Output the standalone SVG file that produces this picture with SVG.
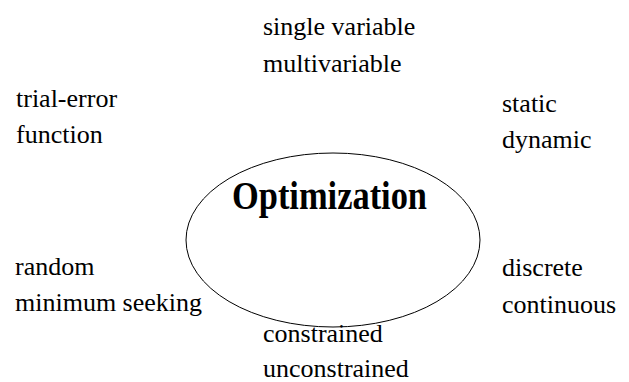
<svg xmlns="http://www.w3.org/2000/svg" width="629" height="382" viewBox="0 0 629 382">
<rect width="629" height="382" fill="#fff"/>
<g id="center">
<ellipse cx="333" cy="240" rx="147" ry="87" fill="none" stroke="#000" stroke-width="1"/>
<text font-family="Liberation Serif" font-size="40" font-weight="bold" x="232" y="209" textLength="195" lengthAdjust="spacingAndGlyphs">Optimization</text>
</g>
<g font-family="Liberation Serif" font-size="26" fill="#000">
<g id="top"><text x="263" y="35">single variable</text><text x="263" y="72">multivariable</text></g>
<g id="topleft"><text x="16" y="107">trial-error</text><text x="16" y="143">function</text></g>
<g id="topright"><text x="502" y="112">static</text><text x="502" y="148">dynamic</text></g>
<g id="bottomleft"><text x="15" y="275">random</text><text x="15" y="311">minimum seeking</text></g>
<g id="bottomright"><text x="502" y="276">discrete</text><text x="502" y="313">continuous</text></g>
<g id="bottom"><text x="263" y="342">constrained</text><text x="263" y="377">unconstrained</text></g>
</g>
<g id="connectors"></g>
</svg>
